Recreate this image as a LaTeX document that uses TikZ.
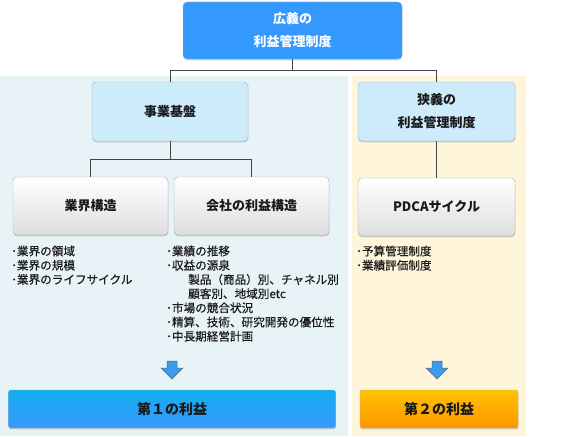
\documentclass[tikz,border=0pt]{standalone}
\usepackage{fontspec}
\setmainfont{Noto Sans CJK JP}
\newfontfamily\listfont[FakeBold=0.5]{Noto Sans CJK JP}
\usetikzlibrary{shadows}
\definecolor{topblue}{HTML}{3399FF}
\definecolor{lightbox}{HTML}{CDEBFB}
\definecolor{bgblue}{HTML}{E8F3F8}
\definecolor{bgyellow}{HTML}{FFF5DA}
\definecolor{boxborder}{HTML}{A9B4BC}
\definecolor{grayborder}{HTML}{AAAAAA}
\definecolor{linegray}{HTML}{444444}
\definecolor{arrowblue}{HTML}{3A9BEF}
\definecolor{cyantop}{HTML}{12AEEE}
\definecolor{bluebot}{HTML}{3A98FF}
\definecolor{orangetop}{HTML}{FFC200}
\definecolor{orangebot}{HTML}{FF9600}
\definecolor{textdark}{HTML}{1A1A1A}
\begin{document}
\begin{tikzpicture}[x=1pt,y=-1pt,
  shadowed/.style={drop shadow={shadow xshift=0.4pt,shadow yshift=-1.3pt,opacity=0.35,fill=gray}},
  basebox/.style={rounded corners=4pt, inner sep=0pt, align=center, shadowed},
  topbox/.style={basebox, fill=topblue, draw=boxborder, text=white,
    font=\bfseries\fontsize{13}{23}\selectfont},
  lightbox/.style={basebox, fill=lightbox, draw=boxborder, text=textdark,
    font=\bfseries\fontsize{13}{23}\selectfont},
  graybox/.style={basebox, top color=white, bottom color=black!13, draw=grayborder,
    text=textdark, font=\bfseries\fontsize{13}{23}\selectfont},
  resultbox/.style={rounded corners=2pt, inner sep=0pt, draw=grayborder!80, shadowed,
    text=textdark, font=\bfseries\fontsize{14}{16}\selectfont},
  listtext/.style={anchor=north west, inner sep=0pt, align=left, text=textdark,
    font=\listfont\fontsize{11.6}{14.2}\selectfont},
  conn/.style={draw=linegray, line width=0.8pt},
  downarrow/.style={fill=arrowblue, draw=black!60, line width=0.5pt, line join=miter}
]
\useasboundingbox (0,0) rectangle (580,436);
% backgrounds
\fill[bgblue] (0,76) rectangle (348,436);
\fill[bgyellow] (352,76) rectangle (526,436);

% boxes
\node[topbox, minimum width=219pt, minimum height=57pt] (top) at (292.5,30.5) {広義の\\利益管理制度};
\node[lightbox, minimum width=156pt, minimum height=59pt] (jigyo) at (170,111.5) {事業基盤};
\node[lightbox, minimum width=157pt, minimum height=59pt] (kyogi) at (436.5,111.5) {狭義の\\利益管理制度};
\node[graybox, minimum width=155pt, minimum height=58pt] (gyokai) at (90.5,206) {業界構造};
\node[graybox, minimum width=155pt, minimum height=58pt] (kaisha) at (251.5,206) {会社の利益構造};
\node[graybox, minimum width=157pt, minimum height=58pt] (pdca) at (436.5,207) {PDCAサイクル};

% connectors
\coordinate (j1) at (292.5,70);
\coordinate (j2) at (171,159);
\draw[conn] (top.south) -- (j1) -| (jigyo.north);
\draw[conn] (j1) -| (kyogi.north);
\draw[conn] (jigyo.south) -- (jigyo.south |- j2) -| (gyokai.north);
\draw[conn] (jigyo.south |- j2) -| (kaisha.north);
\draw[conn] (kyogi.south) -- (pdca.north);

% lists
\node[listtext] (list1) at (11,245.5) {･業界の領域\\･業界の規模\\･業界のライフサイクル};
\node[listtext] (list2) at (166,245.5) {･業績の推移\\･収益の源泉\\\hspace*{22pt}製品（商品）別、チャネル別\\\hspace*{22pt}顧客別、地域別etc\\･市場の競合状況\\･精算、技術、研究開発の優位性\\･中長期経営計画};
\node[listtext] (list3) at (356,245.5) {･予算管理制度\\･業績評価制度};

% arrows
\coordinate (a1) at (172,361);
\coordinate (a2) at (437,361);
\begin{scope}[shift={(a1)}]
\draw[downarrow] (-5,0) -- (5,0) -- (5,7) -- (11,7) -- (0,18) -- (-11,7) -- (-5,7) -- cycle;
\end{scope}
\begin{scope}[shift={(a2)}]
\draw[downarrow] (-5,0) -- (5,0) -- (5,7) -- (11,7) -- (0,18) -- (-11,7) -- (-5,7) -- cycle;
\end{scope}

% result boxes
\node[resultbox, top color=cyantop, bottom color=bluebot, minimum width=327pt, minimum height=38pt] (res1) at (172,409) {第１の利益};
\node[resultbox, top color=orangetop, bottom color=orangebot, minimum width=158pt, minimum height=38pt] (res2) at (439,409) {第２の利益};
\end{tikzpicture}
\end{document}
